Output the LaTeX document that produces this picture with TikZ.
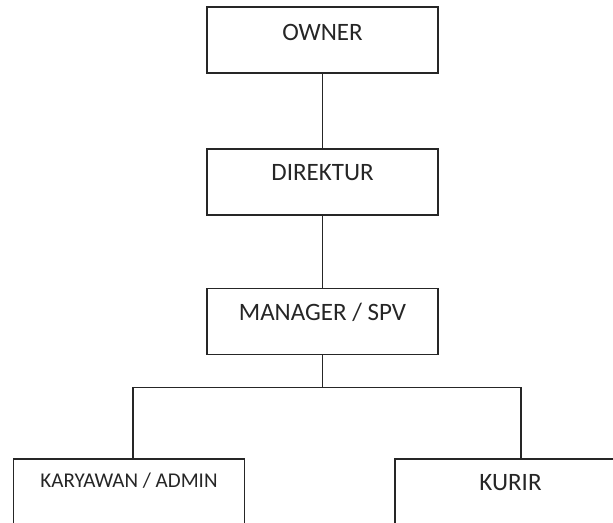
\documentclass[tikz,border=0pt]{standalone}
\usepackage{fontspec}
\setmainfont{Carlito}
\begin{document}
\begin{tikzpicture}[x=1pt,y=-1pt,
  orgbox/.style={draw=black!85, line width=1.2pt, rectangle, minimum width=231pt, minimum height=66pt, inner sep=0pt},
  orglabel/.style={text=black!85, inner sep=0pt, anchor=center},
  link/.style={draw=black!85, line width=1.2pt}]
  \clip (0,0) rectangle (613,522);
  \fill[white] (0,0) rectangle (613,522);

  % boxes
  \node[orgbox] (owner)    at (322.5,40)   {};
  \node[orgbox] (direktur) at (322.5,182)  {};
  \node[orgbox] (manager)  at (322.5,321.5){};
  \node[orgbox] (karyawan) at (129,492)    {};
  \node[orgbox] (kurir)    at (510.5,492)  {};

  % titles near the top of each box
  \node[orglabel, font=\fontsize{25}{27}\selectfont] (tOwner)    at ([yshift=-26pt]owner.north)    {OWNER};
  \node[orglabel, font=\fontsize{25}{27}\selectfont] (tDirektur) at ([yshift=-24pt]direktur.north) {DIREKTUR};
  \node[orglabel, font=\fontsize{25}{27}\selectfont] (tManager)  at ([yshift=-24pt]manager.north)  {MANAGER / SPV};
  \node[orglabel, font=\fontsize{21}{23}\selectfont] (tKaryawan) at ([yshift=-22pt]karyawan.north) {KARYAWAN / ADMIN};
  \node[orglabel, font=\fontsize{25}{27}\selectfont] (tKurir)    at ([yshift=-24pt]kurir.north)    {KURIR};

  % connectors
  \coordinate (bus)  at ([yshift=-32pt]manager.south);
  \coordinate (dropL) at ([xshift=4pt]karyawan.north);
  \coordinate (dropR) at ([xshift=10.5pt]kurir.north);
  \draw[link] (owner.south) -- (direktur.north);
  \draw[link] (direktur.south) -- (manager.north);
  \draw[link] (manager.south) -- (bus);
  \draw[link] (dropL) -- (bus -| dropL) -- (bus -| dropR) -- (dropR);
\end{tikzpicture}
\end{document}
